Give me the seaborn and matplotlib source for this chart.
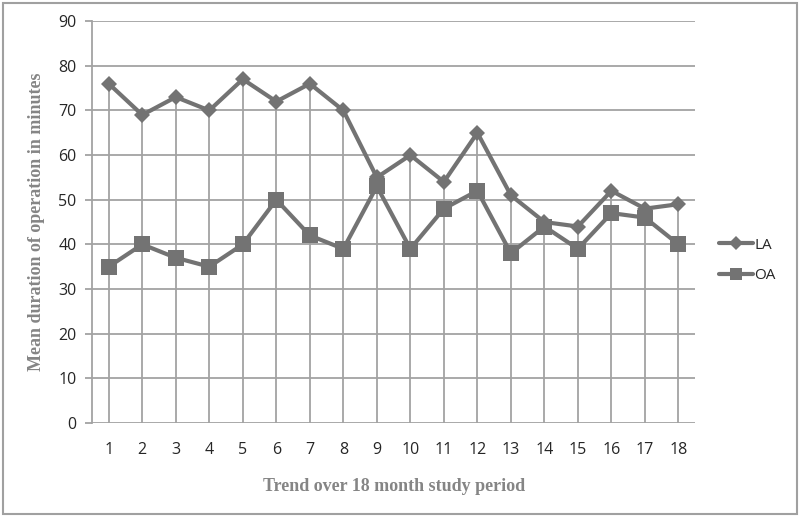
import matplotlib
matplotlib.use("Agg")
import matplotlib.pyplot as plt
import matplotlib.patches as mpatches
import numpy as np
import pandas as pd
import seaborn as sns

# months of the study and mean operation duration
months = list(range(1, 19))
la = [76, 69, 73, 70, 77, 72, 76, 70, 55, 60, 54, 65, 51, 45, 44, 52, 48, 49]
oa = [35, 40, 37, 35, 40, 50, 42, 39, 53, 39, 48, 52, 38, 44, 39, 47, 46, 40]

df = pd.DataFrame({"month": months * 2,
                   "minutes": la + oa,
                   "group": ["LA"] * 18 + ["OA"] * 18})

sns.set_style("white")
plt.rcParams['font.family'] = ['Open Sans', 'DejaVu Sans']

fig = plt.figure(figsize=(8, 5.17), dpi=100)
ax = fig.add_axes([0.115, 0.182, 0.754, 0.777])

grid_c = "#a3a3a3"
line_c = "#737373"

# horizontal gridlines
for y in range(0, 91, 10):
    ax.axhline(y, color=grid_c, lw=1.3, zorder=0)
# drop lines from highest point to axis
ax.vlines(months, 0, np.maximum(la, oa), color=grid_c, lw=1.3, zorder=0)

sns.lineplot(data=df, x="month", y="minutes", hue="group", style="group",
             markers={"LA": "D", "OA": "s"}, dashes=False,
             palette={"LA": line_c, "OA": line_c}, lw=3,
             markersize=8, markeredgewidth=0, ax=ax, zorder=3)
# bigger squares for OA
for ln in ax.get_lines():
    if ln.get_marker() == "s":
        ln.set_markersize(12)

ax.set_xlim(0.5, 18.5)
ax.set_ylim(0, 90)
ax.set_xticks(months)
ax.set_yticks(range(0, 91, 10))
ax.tick_params(axis="x", length=0, pad=14, labelsize=11.5)
ax.tick_params(axis="y", length=5, width=1.3, color=grid_c, left=True, pad=6, labelsize=11.5)
for s in ["top", "right", "bottom"]:
    ax.spines[s].set_visible(False)
ax.spines["left"].set_color(grid_c)
ax.spines["left"].set_linewidth(1.3)

lab_font = dict(family="Liberation Serif", fontweight="bold", color="#858585", fontsize=13)
ax.set_xlabel("Trend over 18 month study period", labelpad=14, **lab_font)
ax.set_ylabel("Mean duration of operation in minutes", labelpad=10, **lab_font)

handles, labels = ax.get_legend_handles_labels()
for h in handles:
    h.set_markersize(7 if h.get_marker() == "D" else 9)
ax.legend(handles, labels, loc="center left", bbox_to_anchor=(1.04, 0.405),
          frameon=False, fontsize=11, handlelength=2.2, handletextpad=0.1,
          labelspacing=1.0, borderaxespad=0, borderpad=0)

fig.patches.append(mpatches.Rectangle((0.004, 0.006), 0.992, 0.988, transform=fig.transFigure,
                                      fill=False, edgecolor="#a0a0a0", lw=1.5))

fig.savefig("out.png", dpi=100)
